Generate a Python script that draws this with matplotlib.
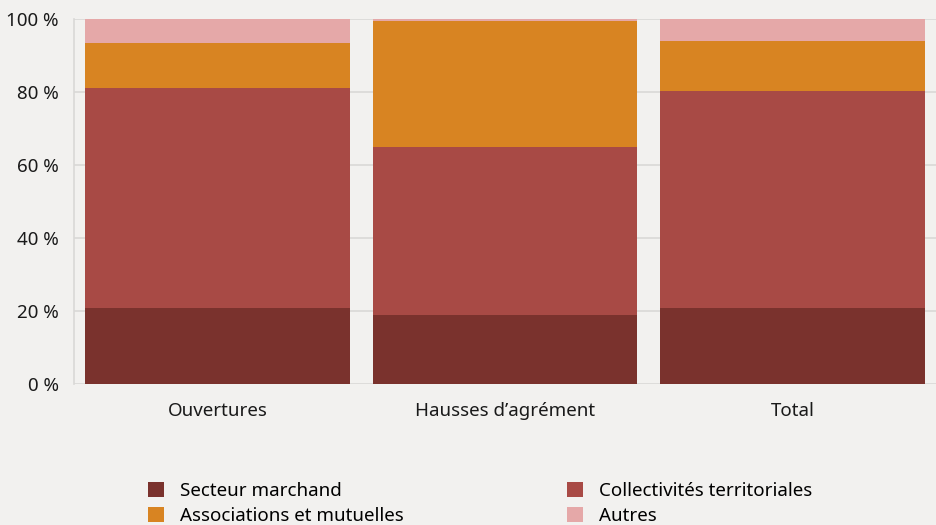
import numpy as np
import matplotlib
matplotlib.use('Agg')
import matplotlib.pyplot as plt

categories = ['Ouvertures', 'Hausses d\u2019agrément', 'Total']
series_names = ['Secteur marchand', 'Collectivités territoriales',
                'Associations et mutuelles', 'Autres']
marchand = [20.9, 18.9, 20.9]
collectivites = [60.3, 46.1, 59.5]
associations = [12.3, 34.6, 13.8]
autres = [6.5, 0.4, 5.8]
colors = ['#7a322d', '#a84a45', '#d88422', '#e5a8a8']
BG = '#f2f1ef'

plt.rcParams['font.family'] = ['Noto Sans', 'DejaVu Sans']

fig = plt.figure(figsize=(9.36, 5.25), dpi=100, facecolor=BG)
ax = fig.add_axes([0.079, 0.269, 0.921, 0.694], facecolor=BG)

x = np.arange(len(categories))
bottom = np.zeros(len(categories))
handles = []
for name, vals, c in zip(series_names, [marchand, collectivites, associations, autres], colors):
    h = ax.bar(x, vals, width=0.92, bottom=bottom, color=c, label=name, zorder=3)
    handles.append(h)
    bottom += np.array(vals)

ax.set_xlim(-0.5, 2.5)
ax.set_ylim(0, 100)
ax.set_yticks(np.arange(0, 101, 20))
ax.set_yticklabels([f'{v} %' for v in range(0, 101, 20)])
ax.set_xticks(x)
ax.set_xticklabels(categories)
ax.tick_params(length=0, labelsize=13.5, colors='#1a1a1a')
ax.tick_params(axis='x', pad=13)
ax.tick_params(axis='y', pad=11)
ax.grid(axis='y', color='#d9d8d6', lw=1.2, zorder=0)
for s in ['top', 'right', 'bottom']:
    ax.spines[s].set_visible(False)
ax.spines['left'].set_color('#d9d8d6')
ax.spines['left'].set_linewidth(1.2)

order = [0, 2, 1, 3]
leg = fig.legend([handles[i] for i in order], [series_names[i] for i in order],
                 ncol=2, loc='upper left', bbox_to_anchor=(0.158, 0.082),
                 frameon=False, fontsize=13.5, handlelength=0.85, handleheight=0.85,
                 handletextpad=0.85, columnspacing=8.7, labelspacing=0.4,
                 borderaxespad=0, borderpad=0)

fig.savefig('out.png', dpi=100, facecolor=BG)
